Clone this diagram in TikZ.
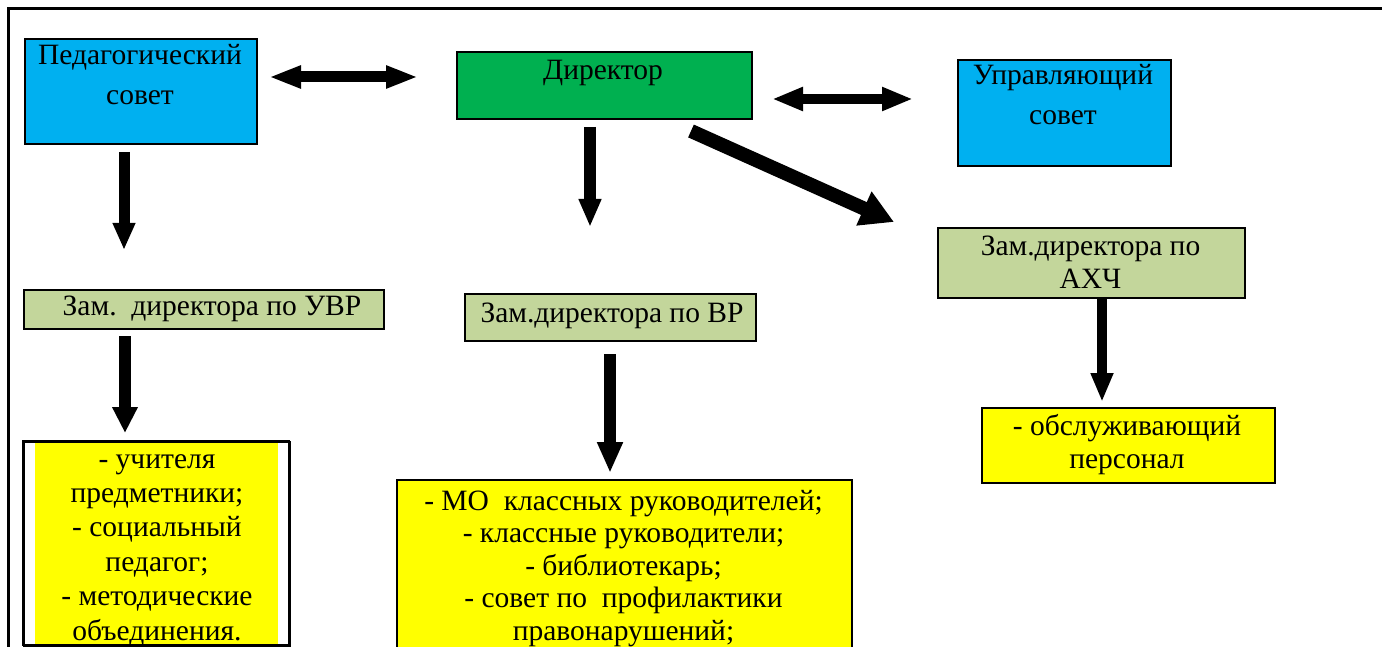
\documentclass[tikz,border=0pt]{standalone}
\usepackage{fontspec}
\setmainfont{Liberation Serif}
\usetikzlibrary{arrows.meta}
\definecolor{cblue}{HTML}{00B0F0}
\definecolor{cgreen}{HTML}{00B050}
\definecolor{colive}{HTML}{C3D69B}
\definecolor{cyellow}{HTML}{FFFF00}
\tikzset{
  box/.style={draw=black, line width=1.6pt, anchor=north west, inner sep=0pt},
  bluebox/.style={box, fill=cblue},
  greenbox/.style={box, fill=cgreen},
  olivebox/.style={box, fill=colive},
  yellowbox/.style={box, fill=cyellow},
  txt/.style={anchor=base, align=center, inner sep=0pt, font=\fontsize{29.5}{33}\selectfont},
  txtwide/.style={txt, font=\fontsize{29.5}{40}\selectfont},
  bigarrow/.style={line width=#1, draw=black},
}
\begin{document}
\begin{tikzpicture}[x=1pt,y=-1pt]
\useasboundingbox (0,0) rectangle (1382,647);
\clip (0,0) rectangle (1382,647);
% outer frame
\draw[line width=3pt] (8,700) -- (8,9) -- (1400,9);

% boxes (text nodes anchored at the baseline of their last line)
\node[bluebox, minimum width=232, minimum height=105] (ped) at (24,38) {};
\node[txtwide] (pedT) at (140,105) {Педагогический\\совет};

\node[greenbox, minimum width=295, minimum height=67] (dir) at (456,51) {};
\node[txt] (dirT) at (603,80) {Директор};

\node[bluebox, minimum width=213, minimum height=106] (upr) at (957,59) {};
\node[txtwide] (uprT) at (1063,125) {Управляющий\\совет};

\node[olivebox, minimum width=360, minimum height=39] (uvr) at (23,289) {};
\node[txt] (uvrT) at (212,315) {Зам.\ \ директора по УВР};

\node[olivebox, minimum width=291, minimum height=47] (vr) at (464,293) {};
\node[txt] (vrT) at (612,322) {Зам.директора по ВР};

\node[olivebox, minimum width=307, minimum height=70] (axch) at (937,227) {};
\node[txt] (axchT) at (1090.5,288) {Зам.директора по\\АХЧ};

% left yellow list box
\node[box, fill=white, minimum width=266, minimum height=204] (list1) at (23,441) {};
\fill[cyellow] (35,442.5) rectangle (278,644);
\draw[line width=1.6pt] (23,441) rectangle (289,645);
\node[txt, font=\fontsize{29.5}{34.4}\selectfont] (list1T) at (157,640)
  {- учителя\\предметники;\\- социальный\\педагог;\\- методические\\объединения.};

% middle yellow list box
\node[yellowbox, minimum width=455, minimum height=240] (list2) at (396,479) {};
\node[txt, font=\fontsize{29.5}{32.5}\selectfont] (list2T) at (623.5,640)
  {- МО\ \ классных руководителей;\\- классные руководители;\\- библиотекарь;\\- совет по\ \ профилактики\\правонарушений;};

% right yellow box
\node[yellowbox, minimum width=293, minimum height=75] (list3) at (981,407) {};
\node[txt] (list3T) at (1127,468) {- обслуживающий\\персонал};

% arrow end points
\coordinate (a1s) at (269,77);  \coordinate (a1e) at (418,77);
\coordinate (a2s) at (772,99);  \coordinate (a2e) at (913,99);
\coordinate (a3s) at (124,152); \coordinate (a3e) at (124,250);
\coordinate (a4s) at (590,127); \coordinate (a4e) at (590,227);
\coordinate (a5s) at (691,131); \coordinate (a5e) at (894,222);
\coordinate (a6s) at (125,336); \coordinate (a6e) at (125,433);
\coordinate (a7s) at (610,354); \coordinate (a7e) at (610,473);
\coordinate (a8s) at (1102,297);\coordinate (a8e) at (1102,402);

% arrows
\draw[bigarrow=11pt, {Triangle[length=32pt,width=21pt]}-{Triangle[length=32pt,width=21pt]}] (a1s) -- (a1e);
\draw[bigarrow=10pt, {Triangle[length=31pt,width=22pt]}-{Triangle[length=31pt,width=22pt]}] (a2s) -- (a2e);
\draw[bigarrow=11pt, -{Triangle[length=27pt,width=21pt]}] (a3s) -- (a3e);
\draw[bigarrow=12pt, -{Triangle[length=28pt,width=21pt]}] (a4s) -- (a4e);
\draw[bigarrow=14pt, -{Triangle[length=33pt,width=35pt]}] (a5s) -- (a5e);
\draw[bigarrow=12pt, -{Triangle[length=26pt,width=24pt]}] (a6s) -- (a6e);
\draw[bigarrow=12pt, -{Triangle[length=31pt,width=24pt]}] (a7s) -- (a7e);
\draw[bigarrow=10pt, -{Triangle[length=29pt,width=21pt]}] (a8s) -- (a8e);
\end{tikzpicture}
\end{document}
